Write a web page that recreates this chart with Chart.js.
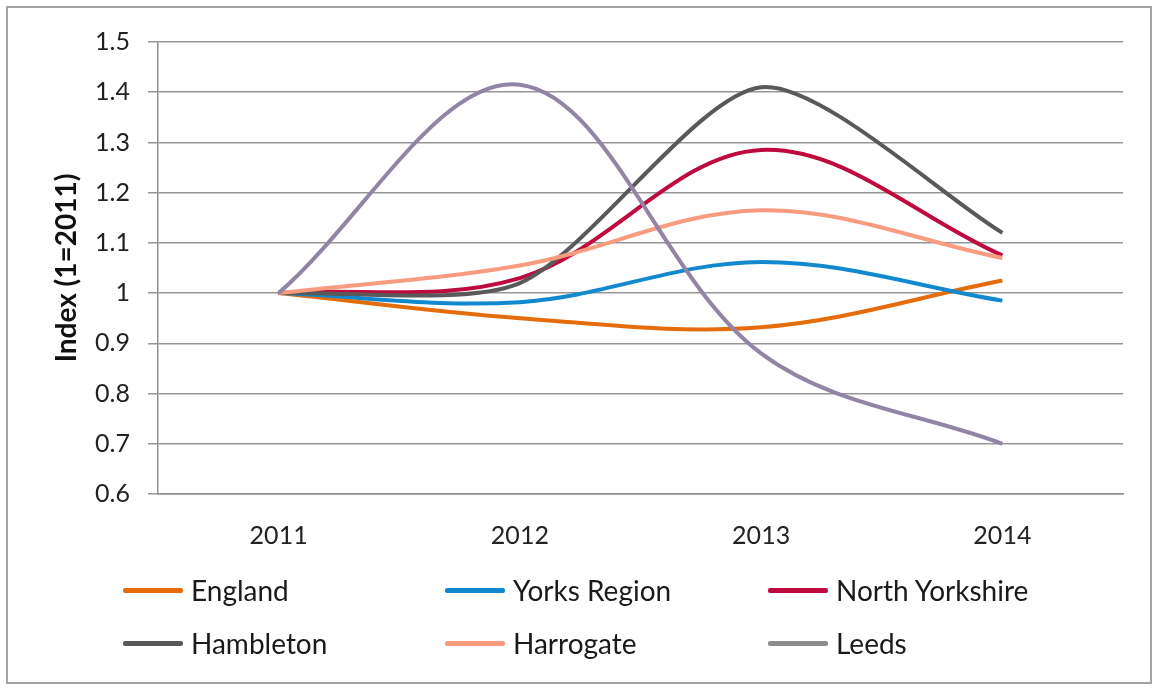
<!DOCTYPE html>
<html>
<head>
<meta charset="utf-8">
<script src="https://cdn.jsdelivr.net/npm/chart.js@4.4.1/dist/chart.umd.min.js"></script>
<style>
    html, body { margin: 0; padding: 0; background: #fff; }
    #wrap { position: relative; width: 1159px; height: 691px; }
    #frame {
        position: absolute; left: 6px; top: 6px; width: 1146px; height: 678px;
        border: 2px solid #a3a3a3; box-sizing: border-box; pointer-events: none;
    }
    #legend {
        position: absolute; left: 123px; top: 570px;
        display: grid; grid-template-columns: 322px 323px 322px; row-gap: 13px;
        font-family: Lato, sans-serif; font-size: 28px; color: #1a1a1a;
    }
    .item { display: flex; align-items: center; height: 40px; }
    .swatch { width: 60px; height: 5px; margin-right: 8px; border-radius: 2px; }
</style>
</head>
<body>
<div id="wrap">
    <canvas id="indexChart"></canvas>
    <div id="legend"></div>
    <div id="frame"></div>
</div>
<script>
// --- Data ---
const years = ['2011', '2012', '2013', '2014'];

const england        = [1.0, 0.95, 0.932, 1.025];
const yorksRegion    = [1.0, 0.982, 1.062, 0.985];
const northYorkshire = [1.0, 1.03, 1.285, 1.075];
const hambleton      = [1.0, 1.02, 1.41, 1.12];
const harrogate      = [1.0, 1.055, 1.165, 1.07];
const leeds          = [1.0, 1.415, 0.88, 0.70];

const seriesNames  = ['England', 'Yorks Region', 'North Yorkshire', 'Hambleton', 'Harrogate', 'Leeds'];
const seriesValues = [england, yorksRegion, northYorkshire, hambleton, harrogate, leeds];
const lineColors   = ['#E46C0A', '#1289CF', '#BF0A3D', '#595959', '#F89B7F', '#9284A5'];
const legendColors = ['#E46C0A', '#1289CF', '#BF0A3D', '#595959', '#F89B7F', '#8C8C8C'];
// Hambleton gets a tighter curve so it doesn't sag below 1 before its climb
const tensions     = [0.35, 0.35, 0.35, 0.25, 0.35, 0.35];

// --- Chart ---
document.addEventListener('DOMContentLoaded', () => {
    const canvas = document.getElementById('indexChart');
    canvas.width = 1159;
    canvas.height = 691;

    const datasets = seriesNames.map((name, i) => ({
        label: name,
        data: seriesValues[i],
        borderColor: lineColors[i],
        backgroundColor: lineColors[i],
        borderWidth: 4,
        pointRadius: 0,
        tension: tensions[i],
        fill: false,
        order: seriesNames.length - i   // later series sit on top
    }));

    new Chart(canvas.getContext('2d'), {
        type: 'line',
        data: { labels: years, datasets },
        options: {
            responsive: false,
            animation: false,
            layout: { padding: { top: 42, right: 36, left: 0, bottom: 0 } },
            plugins: {
                legend: { display: false },
                tooltip: { enabled: false }
            },
            scales: {
                x: {
                    offset: true,
                    grid: { display: false, drawTicks: false },
                    border: { color: '#8f8f8f', width: 1.5 },
                    ticks: {
                        padding: 27,
                        color: '#222',
                        font: { family: 'Lato', size: 25 }
                    },
                    afterFit: scale => { scale.height = 197; }
                },
                y: {
                    min: 0.6,
                    max: 1.5,
                    grid: { color: '#969696', lineWidth: 1.5, tickLength: 10 },
                    border: { color: '#8f8f8f', width: 1.5 },
                    ticks: {
                        stepSize: 0.1,
                        padding: 18,
                        color: '#222',
                        font: { family: 'Lato', size: 25 },
                        callback: v => Math.round(v * 10) / 10
                    },
                    title: {
                        display: true,
                        text: 'Index (1=2011)',
                        color: '#111',
                        padding: { top: 50, bottom: 0 },
                        font: { family: 'Lato', size: 28, weight: 'bold' }
                    },
                    afterFit: scale => { scale.width = 158; }
                }
            }
        }
    });

    // Legend laid out as a fixed 3-column grid
    const legend = document.getElementById('legend');
    seriesNames.forEach((name, i) => {
        const item = document.createElement('div');
        item.className = 'item';
        item.innerHTML = `<span class="swatch" style="background:${legendColors[i]}"></span><span>${name}</span>`;
        legend.appendChild(item);
    });
});
</script>
</body>
</html>
